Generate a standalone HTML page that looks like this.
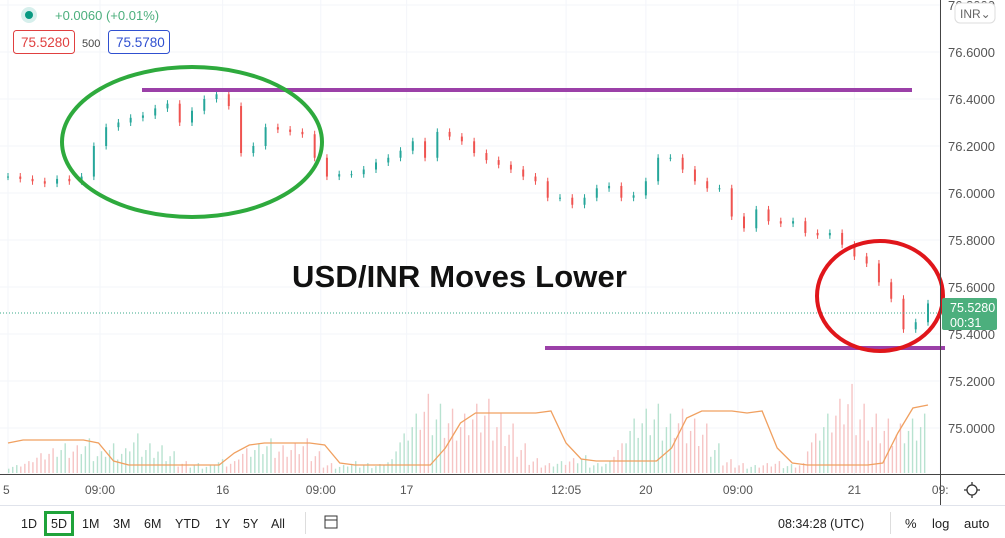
<!DOCTYPE html>
<html><head><meta charset="utf-8"><style>
body{margin:0;width:1005px;height:538px;overflow:hidden;background:#fff;font-family:"Liberation Sans",sans-serif;}
svg{position:absolute;left:0;top:0}
</style></head><body>
<svg width="1005" height="538" id="chart">
<g id="grid"></g>
<g id="vol"></g>
<polyline id="ma" fill="none" stroke="#f0a060" stroke-width="1.3"/>
<g id="candles"></g>
<line x1="0" y1="313" x2="940" y2="313" stroke="#3aa88a" stroke-dasharray="1,2"/>
<line x1="142" y1="90" x2="912" y2="90" stroke="#9b40a8" stroke-width="4"/>
<line x1="545" y1="348" x2="945" y2="348" stroke="#9b40a8" stroke-width="4"/>
<ellipse cx="192" cy="142" rx="130" ry="75" fill="none" stroke="#2eaa3d" stroke-width="4"/>
<ellipse cx="880" cy="296" rx="63" ry="55" fill="none" stroke="#e0161b" stroke-width="4"/>
<text x="292" y="287" font-size="31" font-weight="bold" fill="#111" textLength="335">USD/INR Moves Lower</text>
<line x1="940.5" y1="0" x2="940.5" y2="505" stroke="#444"/>
<line x1="0" y1="474.5" x2="1005" y2="474.5" stroke="#444"/>
<g id="yax" font-size="13" fill="#555"></g>
<g id="xax" font-size="12" fill="#555"></g>
<rect x="942" y="298" width="55" height="32" rx="2" fill="#4caf7d"/>
<text x="950" y="312" font-size="12.5" fill="#fff">75.5280</text>
<text x="950" y="327" font-size="12.5" fill="#fff">00:31</text>
<rect x="955" y="3" width="40" height="20" rx="5" fill="#fff" stroke="#ddd"/>
<text x="960" y="18" font-size="12" fill="#666">INR⌄</text>
<g><circle cx="972" cy="490" r="5" fill="none" stroke="#333" stroke-width="1.3"/><path d="M972 482v3M972 495v3M964 490h3M977 490h3" stroke="#333" stroke-width="1.3"/></g>
<line x1="0" y1="505.5" x2="1005" y2="505.5" stroke="#e0e3eb"/>
<circle cx="29" cy="15" r="8" fill="#d6efec"/><circle cx="29" cy="15" r="4" fill="#089981"/>
<text x="55" y="20" font-size="13" fill="#4caf7d">+0.0060 (+0.01%)</text>
<rect x="13.5" y="30.5" width="61" height="23" rx="3" fill="#fff" stroke="#e04040"/>
<text x="21" y="47" font-size="13.5" fill="#e04040">75.5280</text>
<text x="82" y="47" font-size="11" fill="#444">500</text>
<rect x="108.5" y="30.5" width="61" height="23" rx="3" fill="#fff" stroke="#3050d0"/>
<text x="116" y="47" font-size="13.5" fill="#3050d0">75.5780</text>
<g font-size="12.5" fill="#222" id="tb"></g>
<rect x="45.5" y="512.5" width="27" height="22" fill="none" stroke="#1fa33a" stroke-width="3"/>
<line x1="305.5" y1="512" x2="305.5" y2="534" stroke="#ddd"/>
<g><rect x="325" y="516" width="12" height="12" fill="none" stroke="#333"/><line x1="325" y1="520" x2="337" y2="520" stroke="#333"/></g>
<text x="778" y="528" font-size="12.5" fill="#222">08:34:28 (UTC)</text>
<line x1="890.5" y1="512" x2="890.5" y2="534" stroke="#ddd"/>
<text x="905" y="528" font-size="13" fill="#222">%</text>
<text x="932" y="528" font-size="13" fill="#222">log</text>
<text x="964" y="528" font-size="13" fill="#222">auto</text>
</svg>
<script>
const closes=[76.07,76.06,76.05,76.04,76.06,76.05,76.07,76.2,76.28,76.3,76.32,76.33,76.36,76.38,76.3,76.35,76.4,76.42,76.37,76.17,76.2,76.28,76.27,76.26,76.25,76.15,76.07,76.08,76.08,76.1,76.13,76.15,76.18,76.22,76.15,76.26,76.24,76.22,76.17,76.14,76.12,76.1,76.07,76.05,75.98,75.98,75.95,75.98,76.02,76.03,75.98,75.99,76.05,76.15,76.15,76.1,76.05,76.02,76.02,75.9,75.85,75.93,75.88,75.87,75.88,75.83,75.82,75.83,75.78,75.73,75.7,75.62,75.55,75.42,75.45,75.53];
const volumes=[8,12,20,25,30,28,35,22,30,25,40,30,28,22,12,10,8,14,12,25,30,35,28,30,35,22,10,8,12,10,9,14,40,60,80,70,65,60,70,75,60,50,30,15,10,12,15,18,10,12,30,55,65,70,60,65,55,50,30,14,10,8,10,12,9,10,40,60,75,90,70,60,55,50,55,60];
const maVals=[30,33,33,33,33,33,30,12,8,8,8,8,8,8,8,20,28,30,30,30,30,28,10,8,8,8,8,8,8,25,50,60,60,60,60,60,62,30,14,12,12,12,12,12,25,55,62,62,62,60,62,25,10,8,8,8,8,8,10,40,65,68];
const priceTicks=["76.8000","76.6000","76.4000","76.2000","76.0000","75.8000","75.6000","75.4000","75.2000","75.0000"];
const timeLabels=["5","09:00","16","09:00","17","12:05","20","09:00","21","09:"];
const timeIdx=[0,7.5,17.5,25.5,32.5,45.5,52,59.5,69,76];
const ranges=["1D","5D","1M","3M","6M","YTD","1Y","5Y","All"];
const NS="http://www.w3.org/2000/svg";
const X0=8,X1=928;
const xi=i=>X0+i*(X1-X0)/(closes.length-1);
const yp=p=>193-(p-76)*235;
function mk(t,a,p){const e=document.createElementNS(NS,t);for(const k in a)e.setAttribute(k,a[k]);(p||document.getElementById('chart')).appendChild(e);return e;}
const grid=document.getElementById('grid'),yax=document.getElementById('yax'),xax=document.getElementById('xax');
priceTicks.forEach(t=>{const y=yp(parseFloat(t));
const l=mk('line',{x1:0,x2:940,y1:y,y2:y,stroke:'#f3f5fa'},grid);


const tx=mk('text',{x:948,y:y+5},yax);tx.textContent=t;

});
timeLabels.forEach((t,k)=>{const x=xi(timeIdx[k]);
const l=mk('line',{x1:x,x2:x,y1:0,y2:474,stroke:'#f3f5fa'},grid);


const tx=mk('text',{x:x,y:494,'text-anchor':k==0?'start':'middle'},xax);tx.textContent=t;
if(k==0)tx.setAttribute('x',3);

});
const vg=document.getElementById('vol');const vw=(X1-X0)/volumes.length;
volumes.forEach((v,i)=>{const up=i==0||closes[i]>=closes[i-1];
for(let s=0;s<3;s++){const h=v*(0.6+0.25*s)*0.9;
const r=mk('rect',{x:X0+i*vw+s*vw/3,y:473-h,width:1.4,height:h,fill:up?'#b8e2d0':'#f6c4c4'},vg);

}});
document.getElementById('ma').setAttribute('points',maVals.map((v,i)=>(X0+i*(X1-X0)/(maVals.length-1))+','+(473-v)).join(' '));
const cg=document.getElementById('candles');
closes.forEach((c,i)=>{const o=i?closes[i-1]:c;const up=c>=o;const col=up?'#26a69a':'#ef5350';const x=xi(i);
const hi=Math.max(o,c)+0.015,lo=Math.min(o,c)-0.015;
const w=mk('line',{x1:x,x2:x,y1:yp(hi),y2:yp(lo),stroke:col,'stroke-width':1},cg);


const b=mk('rect',{x:x-1,y:yp(Math.max(o,c)),width:2,height:Math.max(1,Math.abs(yp(o)-yp(c))),fill:col},cg);

});
const tb=document.getElementById('tb');const rx=[21,51,82,113,144,175,215,243,271];
ranges.forEach((r,i)=>{const t=mk('text',{x:rx[i],y:528},tb);t.textContent=r;

});
</script>
</body></html>
